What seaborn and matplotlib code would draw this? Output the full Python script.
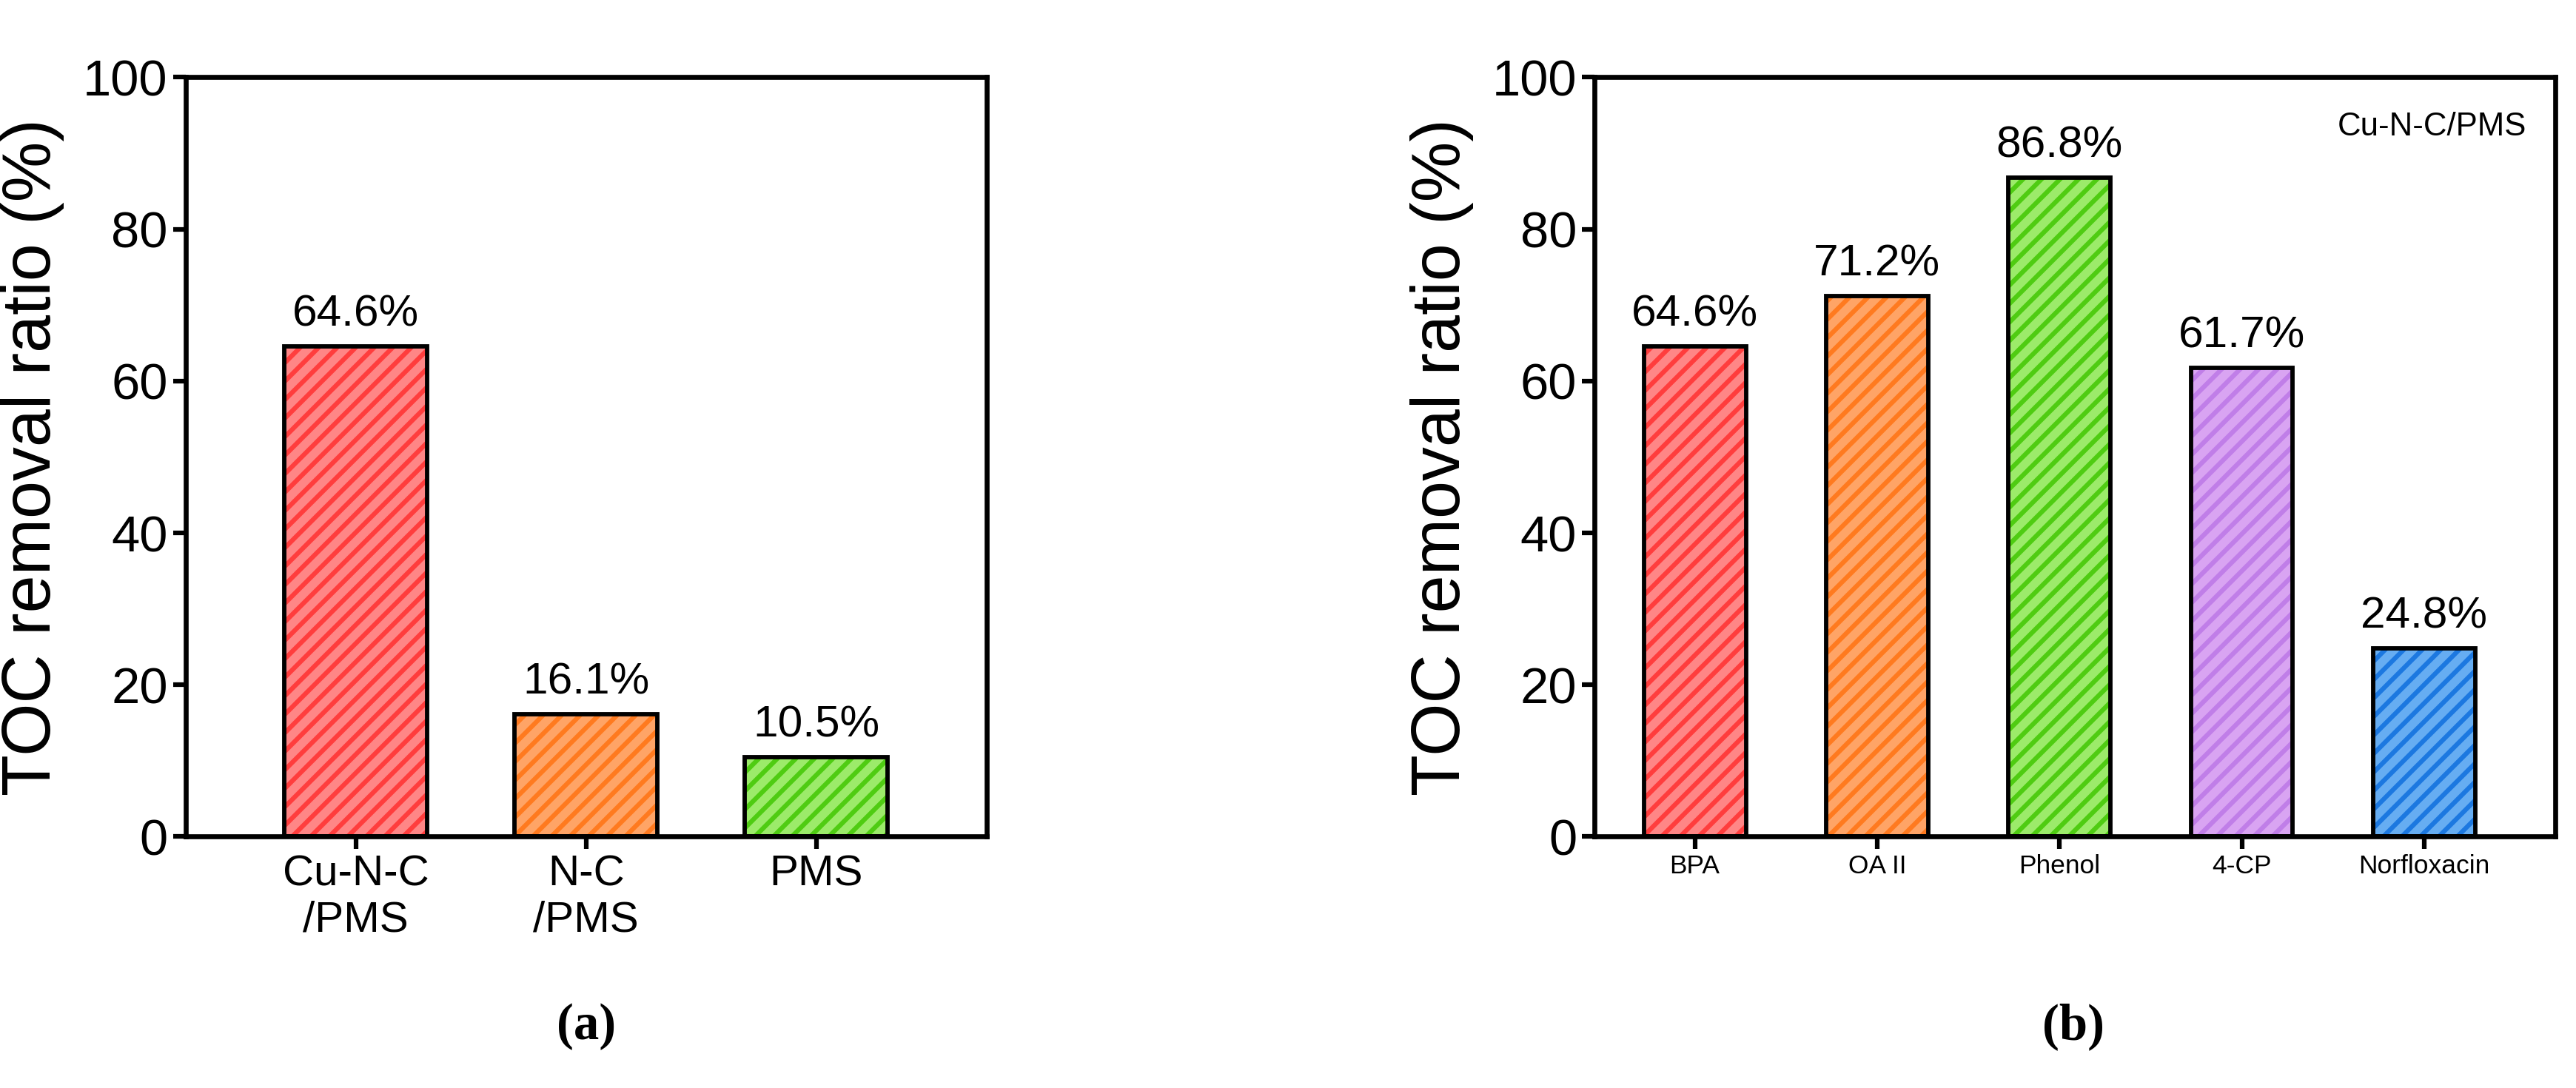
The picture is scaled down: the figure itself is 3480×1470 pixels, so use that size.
import pandas as pd
import seaborn as sns
import matplotlib
matplotlib.use("Agg")
import matplotlib.pyplot as plt

# panel (a)
cats_a = ["Cu-N-C\n/PMS", "N-C\n/PMS", "PMS"]
vals_a = [64.6, 16.1, 10.5]
# panel (b)
cats_b = ["BPA", "OA II", "Phenol", "4-CP", "Norfloxacin"]
vals_b = [64.6, 71.2, 86.8, 61.7, 24.8]

FACE = ["#ff8686", "#ffa466", "#9ceb6a", "#d9a4f2", "#66adf2"]
HATCH = ["#ff3d3d", "#ff7a1f", "#4fcc12", "#c07ee8", "#1c78e0"]

sns.set_theme(style="ticks")
plt.rcParams["font.family"] = ["Liberation Sans", "DejaVu Sans"]
plt.rcParams["hatch.linewidth"] = 3.0
plt.rcParams["text.color"] = "black"
plt.rcParams["axes.labelcolor"] = "black"
plt.rcParams["xtick.color"] = "black"
plt.rcParams["ytick.color"] = "black"

fig = plt.figure(figsize=(23.2, 9.8), dpi=150)
ax_a = fig.add_axes([0.072, 0.231, 0.311, 0.698])
ax_b = fig.add_axes([0.619, 0.231, 0.373, 0.698])


def draw(ax, cats, vals, width, xlim, tick_fs, colors, hatches):
    df = pd.DataFrame({"cat": cats, "val": vals})
    sns.barplot(data=df, x="cat", y="val", hue="cat", palette=colors,
                width=width, legend=False, ax=ax, saturation=1)
    for p, hc in zip(ax.patches, hatches):
        p.set_hatch("//")
        p.set_edgecolor(hc)
        p.set_linewidth(0)
    # black outline on top
    ax.bar(range(len(vals)), vals, width=width, fill=False,
           edgecolor="black", linewidth=2.8, zorder=5)
    for i, v in enumerate(vals):
        ax.text(i, v + 1.5, f"{v}%", ha="center", va="bottom", fontsize=29)
    ax.set_ylim(0, 100)
    ax.set_xlim(*xlim)
    ax.set_yticks(range(0, 101, 20))
    ax.set_xlabel("")
    ax.set_ylabel("TOC removal ratio (%)", fontsize=44, labelpad=12)
    ax.tick_params(axis="y", labelsize=33, width=3, length=8)
    ax.tick_params(axis="x", labelsize=tick_fs, width=3, length=8)
    for s in ax.spines.values():
        s.set_visible(True)
        s.set_linewidth(3.2)
        s.set_color("black")


draw(ax_a, cats_a, vals_a, 0.62, (-0.74, 2.74), 28, FACE[:3], HATCH[:3])
draw(ax_b, cats_b, vals_b, 0.56, (-0.55, 4.72), 17, FACE, HATCH)

ax_b.text(0.97, 0.955, "Cu-N-C/PMS", transform=ax_b.transAxes,
          ha="right", va="top", fontsize=21)

fig.text(0.2275, 0.045, "(a)", ha="center", fontsize=33, fontweight="bold",
         family="Liberation Serif")
fig.text(0.805, 0.045, "(b)", ha="center", fontsize=33, fontweight="bold",
         family="Liberation Serif")

fig.savefig("out.png", dpi=150)
